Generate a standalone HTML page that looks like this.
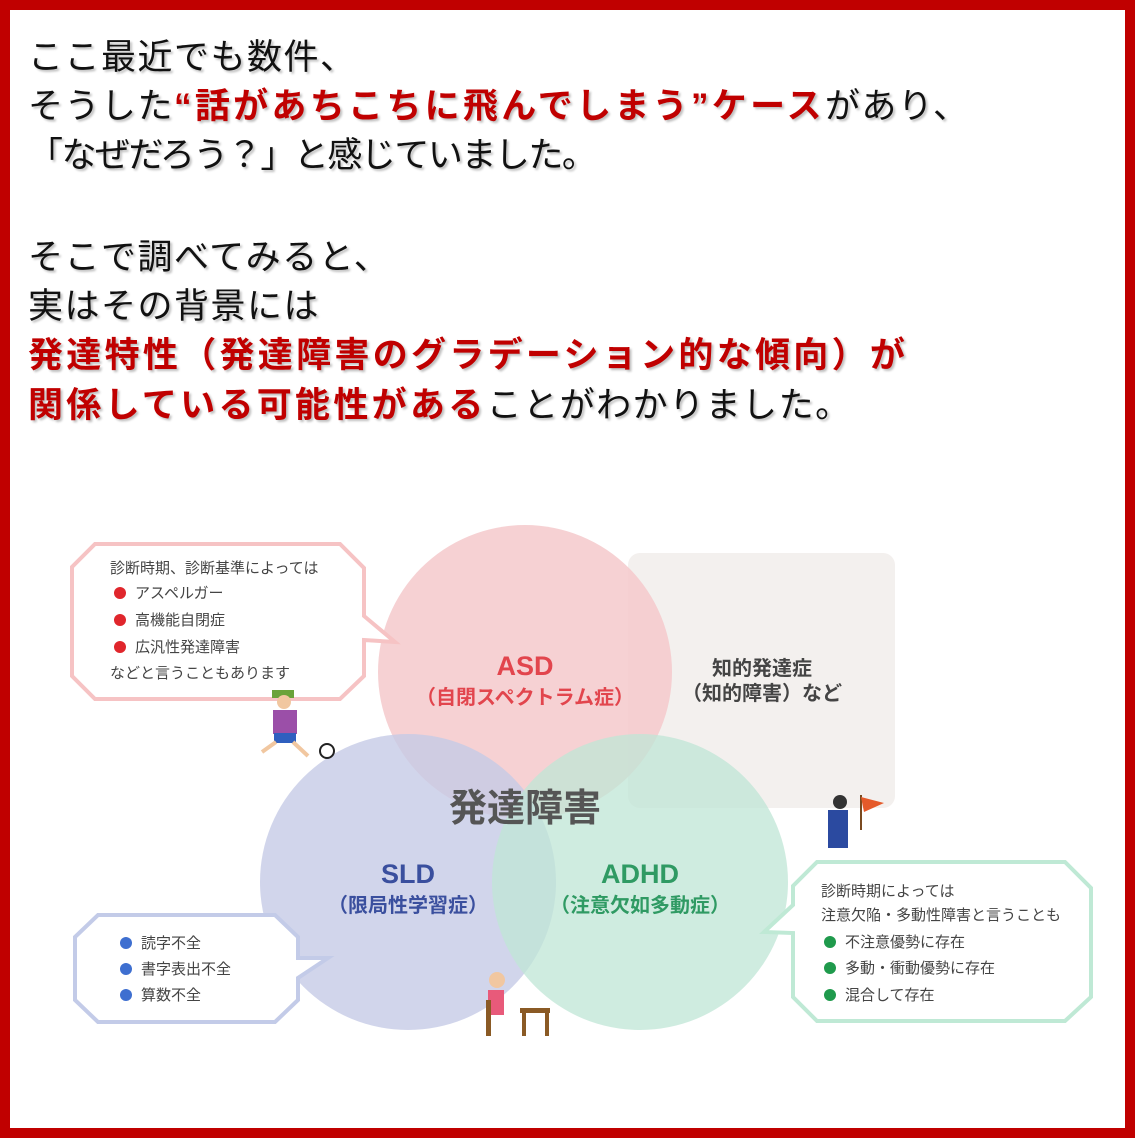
<!DOCTYPE html>
<html><head><meta charset="utf-8"><style>
html,body{margin:0;padding:0;background:#fff}
body{width:1135px;height:1138px;position:relative;overflow:hidden}
.frame{position:absolute;left:0;top:0;width:1115px;height:1118px;border:10px solid #c00000}
.t{position:absolute;left:28px;font-family:"Liberation Sans","Noto Sans CJK JP",sans-serif;font-size:35px;line-height:40px;color:#111;text-shadow:2px 2px 2px rgba(0,0,0,.25);white-space:nowrap;letter-spacing:1.5px}
.r{color:#c00000;font-weight:bold;letter-spacing:3.3px}
svg{position:absolute;left:0;top:0}
svg text{font-family:"Liberation Sans","Noto Sans CJK JP",sans-serif}
</style></head><body>
<div class="frame"></div>
<div class="t" style="top:38px">ここ最近でも数件、</div>
<div class="t" style="top:87px">そうした<span class="r">“話があちこちに飛んでしまう”ケース</span>があり、</div>
<div class="t" style="top:136px;letter-spacing:-1.5px">「なぜだろう？」と感じていました。</div>
<div class="t" style="top:238px">そこで調べてみると、</div>
<div class="t" style="top:287px">実はその背景には</div>
<div class="t" style="top:336px"><span class="r">発達特性（発達障害のグラデーション的な傾向）が</span></div>
<div class="t" style="top:386px"><span class="r">関係している可能性がある</span>ことがわかりました。</div>
<svg width="1135" height="1138">
<rect x="628" y="553" width="267" height="255" rx="12" fill="#f3f0ee"/>
<circle cx="525" cy="672" r="147" fill="#f5c9cb" opacity="0.85"/>
<circle cx="408" cy="882" r="148" fill="#c6cbe6" opacity="0.8"/>
<circle cx="640" cy="882" r="148" fill="#bfe6d6" opacity="0.75"/>
<text x="525" y="675" font-size="27" fill="#e2454d" text-anchor="middle" font-weight="bold">ASD</text>
<text x="525" y="704" font-size="20" fill="#e2454d" text-anchor="middle" font-weight="bold">（自閉スペクトラム症）</text>
<text x="762" y="675" font-size="20" fill="#444" text-anchor="middle" font-weight="bold">知的発達症</text>
<text x="762" y="700" font-size="20" fill="#444" text-anchor="middle" font-weight="bold">（知的障害）など</text>
<text x="525" y="821" font-size="38" fill="#555" text-anchor="middle" font-weight="bold">発達障害</text>
<text x="408" y="883" font-size="27" fill="#3a4f9e" text-anchor="middle" font-weight="bold">SLD</text>
<text x="408" y="912" font-size="20" fill="#3a4f9e" text-anchor="middle" font-weight="bold">（限局性学習症）</text>
<text x="640" y="883" font-size="27" fill="#2f9a63" text-anchor="middle" font-weight="bold">ADHD</text>
<text x="640" y="912" font-size="20" fill="#2f9a63" text-anchor="middle" font-weight="bold">（注意欠如多動症）</text>
<polygon points="95,544 340,544 364,568 364,616 395,642 364,640 364,676 340,699 95,699 72,676 72,567" fill="#fff" stroke="#f6c3c4" stroke-width="4"/>
<g font-size="15" fill="#444">
<text x="110" y="573">診断時期、診断基準によっては</text>
<circle cx="120" cy="593" r="6" fill="#e0262c"/><text x="135" y="598">アスペルガー</text>
<circle cx="120" cy="620" r="6" fill="#e0262c"/><text x="135" y="625">高機能自閉症</text>
<circle cx="120" cy="647" r="6" fill="#e0262c"/><text x="135" y="652">広汎性発達障害</text>
<text x="110" y="678">などと言うこともあります</text>
</g>
<polygon points="98,915 275,915 298,937 298,958 328,958 298,978 298,1000 275,1022 98,1022 75,1000 75,937" fill="#fff" stroke="#c3cbe8" stroke-width="4"/>
<g font-size="15" fill="#444">
<circle cx="126" cy="943" r="6" fill="#3e6fd0"/><text x="141" y="948">読字不全</text>
<circle cx="126" cy="969" r="6" fill="#3e6fd0"/><text x="141" y="974">書字表出不全</text>
<circle cx="126" cy="995" r="6" fill="#3e6fd0"/><text x="141" y="1000">算数不全</text>
</g>
<polygon points="817,862 1065,862 1091,888 1091,997 1065,1021 817,1021 793,997 793,933 764,932 793,905 793,886" fill="#fff" stroke="#bfe9d5" stroke-width="4"/>
<g font-size="15" fill="#444">
<text x="821" y="896">診断時期によっては</text>
<text x="821" y="920">注意欠陥・多動性障害と言うことも</text>
<circle cx="830" cy="942" r="6" fill="#1f9a4c"/><text x="845" y="947">不注意優勢に存在</text>
<circle cx="830" cy="968" r="6" fill="#1f9a4c"/><text x="845" y="973">多動・衝動優勢に存在</text>
<circle cx="830" cy="995" r="6" fill="#1f9a4c"/><text x="845" y="1000">混合して存在</text>
</g>
<g>
<rect x="272" y="690" width="22" height="8" fill="#6aa33a"/>
<circle cx="284" cy="702" r="7" fill="#f1c7a0"/>
<rect x="273" y="710" width="24" height="24" fill="#9b4fa8"/>
<rect x="274" y="733" width="22" height="10" fill="#2f5fbf"/>
<line x1="276" y1="742" x2="262" y2="752" stroke="#f1c7a0" stroke-width="4"/>
<line x1="293" y1="742" x2="308" y2="756" stroke="#f1c7a0" stroke-width="4"/>
<circle cx="327" cy="751" r="7" fill="#fff" stroke="#222" stroke-width="2"/>
</g>
<g>
<circle cx="840" cy="802" r="7" fill="#333"/>
<rect x="828" y="810" width="20" height="38" fill="#2b4aa0"/>
<line x1="861" y1="795" x2="861" y2="830" stroke="#7a4a20" stroke-width="2"/>
<polygon points="861,797 884,803 864,812" fill="#e55a2a"/>
</g>
<g>
<circle cx="497" cy="980" r="8" fill="#f1c7a0"/>
<rect x="488" y="990" width="16" height="25" fill="#e85a7a"/>
<rect x="486" y="1000" width="5" height="36" fill="#8a5a25"/>
<rect x="520" y="1008" width="30" height="5" fill="#8a5a25"/>
<rect x="522" y="1010" width="4" height="26" fill="#8a5a25"/>
<rect x="545" y="1010" width="4" height="26" fill="#8a5a25"/>
</g>
</svg>
</body></html>
